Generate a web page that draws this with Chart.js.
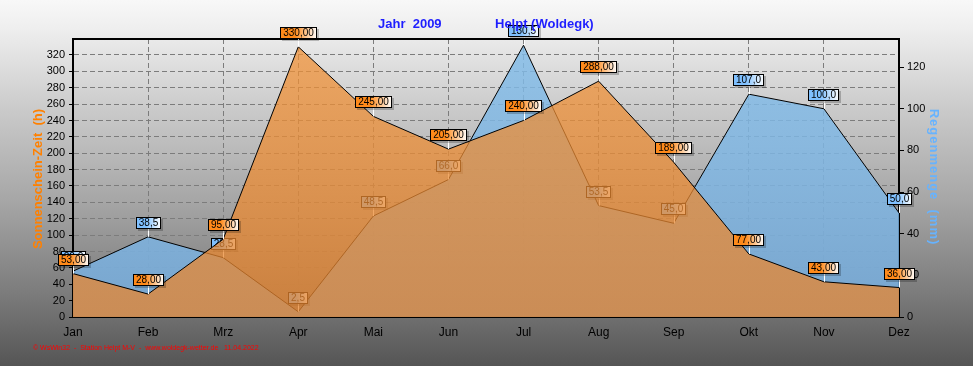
<!DOCTYPE html>
<html><head><meta charset="utf-8">
<script src="https://cdn.jsdelivr.net/npm/chart.js@4/dist/chart.umd.min.js"></script>
<style>html,body{margin:0;padding:0;background:#fff;}canvas{display:block;}</style>
</head><body>
<canvas id="c" width="973" height="366"></canvas>
<script>
const months = ['Jan','Feb','Mrz','Apr','Mai','Jun','Jul','Aug','Sep','Okt','Nov','Dez'];
const sunshine = [53, 28, 95, 330, 245, 205, 240, 288, 189, 77, 43, 36];
const rain = [22.0, 38.5, 28.5, 2.5, 48.5, 66.0, 130.5, 53.5, 45.0, 107.0, 100.0, 50.0];
const sunAxisMax = 339.5, sunStep = 20;
const rainAxisMax = 133.5, rainStep = 20;
const titleLeft = 'Jahr  2009', titleRight = 'Helpt (Woldegk)';
const sunTitle = 'Sonnenschein-Zeit  (h)', rainTitle = 'Regenmenge  (mm)';
const footer = '\u00A9 WsWin32  -  Station Helpt M-V  -  www.woldegk-wetter.de   11.04.2022';

function fmt(v, d){ return v.toFixed(d).replace('.', ','); }

function drawLabel(ctx, x, y, text, c1){
  ctx.save();
  ctx.font = '10px Arial';
  const w = Math.round(ctx.measureText(text).width) + 6;
  const h = 12;
  const bx = Math.round(x - w/2), by = Math.round(y - 8 - h);
  ctx.strokeStyle = '#ffffff'; ctx.lineWidth = 1;
  ctx.beginPath(); ctx.moveTo(Math.round(x)+0.5, y); ctx.lineTo(Math.round(x)+0.5, by+h); ctx.stroke();
  ctx.fillStyle = 'rgba(0,0,0,0.22)'; ctx.fillRect(bx+2, by+2, w, h);
  const g = ctx.createLinearGradient(bx, 0, bx+w, 0);
  g.addColorStop(0, c1); g.addColorStop(0.4, c1); g.addColorStop(1, '#ffffff');
  ctx.fillStyle = g; ctx.fillRect(bx, by, w, h);
  ctx.strokeStyle = '#000'; ctx.strokeRect(bx+0.5, by+0.5, w-1, h-1);
  ctx.fillStyle = '#000'; ctx.textAlign = 'center'; ctx.textBaseline = 'middle';
  ctx.fillText(text, bx + w/2, by + h/2 + 0.5);
  ctx.restore();
}

const decor = {
  id: 'decor',
  beforeDraw(chart){
    const ctx = chart.ctx, W = chart.width, H = chart.height;
    const g = ctx.createLinearGradient(0, 0, 0, H);
    g.addColorStop(0, '#f8f8f8'); g.addColorStop(0.08, '#eeeeee'); g.addColorStop(0.3, '#cacaca');
    g.addColorStop(0.55, '#a6a6a6'); g.addColorStop(0.8, '#7c7c7c'); g.addColorStop(1, '#555555');
    ctx.save(); ctx.fillStyle = g; ctx.fillRect(0, 0, W, H); ctx.restore();
  },
  afterDatasetDraw(chart, args){
    if (args.index !== 1) return;
    const meta = chart.getDatasetMeta(1);
    meta.data.forEach((p, i) => drawLabel(chart.ctx, p.x, p.y, fmt(rain[i], 1), '#7fc0ff'));
  },
  afterDatasetsDraw(chart){
    const ctx = chart.ctx, a = chart.chartArea;
    ctx.save();
    ctx.strokeStyle = '#000'; ctx.lineWidth = 2;
    ctx.beginPath(); ctx.moveTo(a.left, a.top); ctx.lineTo(a.right, a.top); ctx.stroke();
    ctx.restore();
    const meta = chart.getDatasetMeta(0);
    meta.data.forEach((p, i) => drawLabel(ctx, p.x, p.y, fmt(sunshine[i], 2), '#ff8a1a'));
  },
  afterDraw(chart){
    const ctx = chart.ctx;
    ctx.save();
    ctx.fillStyle = '#1e1eff'; ctx.font = 'bold 13px Arial'; ctx.textBaseline = 'middle'; ctx.textAlign = 'left';
    ctx.fillText(titleLeft, 378, 24);
    ctx.fillText(titleRight, 495, 24);
    ctx.save();
    ctx.translate(38, 179); ctx.rotate(-Math.PI/2);
    ctx.fillStyle = '#ff8000'; ctx.textAlign = 'center'; ctx.font = 'bold 13px Arial';
    ctx.fillText(sunTitle, 0, 0);
    ctx.restore();
    ctx.save();
    ctx.translate(934, 177); ctx.rotate(Math.PI/2);
    ctx.fillStyle = '#66b3ff'; ctx.textAlign = 'center'; ctx.font = 'bold 13px Arial';
    ctx.letterSpacing = '1px';
    ctx.fillText(rainTitle, 0, 0);
    ctx.restore();
    ctx.fillStyle = '#ff0000'; ctx.font = '7px Arial'; ctx.textAlign = 'left';
    ctx.fillText(footer, 33, 348);
    ctx.restore();
  }
};

function vGrad(chart, top, bottom){
  const a = chart.chartArea;
  if (!a) return top;
  const g = chart.ctx.createLinearGradient(0, a.top, 0, a.bottom);
  g.addColorStop(0, top); g.addColorStop(1, bottom);
  return g;
}

new Chart(document.getElementById('c'), {
  type: 'line',
  data: {
    labels: months,
    datasets: [
      { label: 'Sonnenschein', data: sunshine, yAxisID: 'y', fill: 'origin',
        borderColor: '#000', borderWidth: 1, pointRadius: 0, tension: 0,
        backgroundColor: c => vGrad(c.chart, 'rgba(240,146,56,0.74)', 'rgba(232,132,44,0.74)') },
      { label: 'Regen', data: rain, yAxisID: 'y1', fill: 'origin',
        borderColor: '#000', borderWidth: 1, pointRadius: 0, tension: 0,
        backgroundColor: c => vGrad(c.chart, 'rgba(130,188,232,0.82)', 'rgba(120,176,226,0.82)') }
    ]
  },
  options: {
    responsive: false, animation: false, devicePixelRatio: 1,
    layout: { padding: { top: 39, left: 0, right: 0, bottom: 0 } },
    plugins: { legend: { display: false }, title: { display: false }, tooltip: { enabled: false } },
    scales: {
      x: {
        type: 'category', offset: false,
        grid: { color: '#7c7c7c', drawTicks: false, lineWidth: 1 },
        border: { display: true, color: '#000', width: 2, dash: [5, 3] },
        ticks: { color: '#000', font: { family: 'Arial', size: 12 }, padding: 8, maxRotation: 0, autoSkip: false },
        afterFit(s){ s.height = 49; }
      },
      y: {
        position: 'left', min: 0, max: sunAxisMax,
        ticks: { stepSize: sunStep, includeBounds: false, color: '#000', font: { family: 'Arial', size: 11 }, padding: 4 },
        grid: { color: '#7c7c7c', tickColor: '#000', tickLength: 4, lineWidth: 1 },
        border: { color: '#000', width: 2, dash: [5, 3] },
        afterFit(s){ s.width = 73; }
      },
      y1: {
        position: 'right', min: 0, max: rainAxisMax,
        ticks: { stepSize: rainStep, includeBounds: false, color: '#000', font: { family: 'Arial', size: 11 }, padding: 3 },
        grid: { drawOnChartArea: false, tickColor: '#000', tickLength: 5 },
        border: { color: '#000', width: 2 },
        afterFit(s){ s.width = 74; }
      }
    }
  },
  plugins: [decor]
});
</script>
</body></html>
